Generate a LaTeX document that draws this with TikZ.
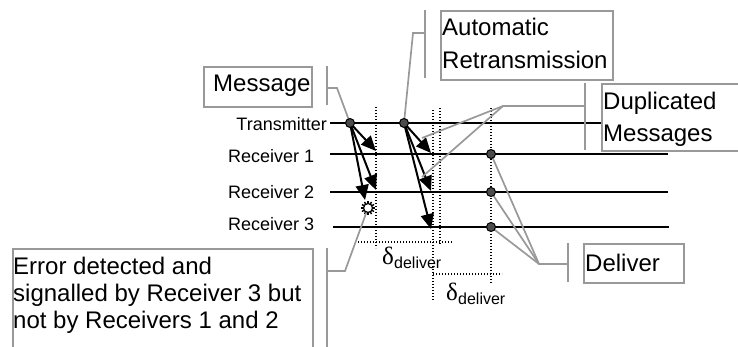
\documentclass[tikz,border=0pt]{standalone}
\usepackage{fontspec}
\setmainfont{Liberation Sans}
\newfontfamily\grk{Liberation Serif}
\usetikzlibrary{arrows.meta}
\begin{document}
\begin{tikzpicture}[x=1pt,y=-1pt,
  wire/.style={line width=2pt},
  msg/.style={line width=2pt,-{Triangle[length=15pt,width=13pt]}},
  dot/.style={circle,draw=black,fill=black!70,line width=1pt,minimum size=9pt,inner sep=0},
  tick/.style={black,line width=1.4pt,dash pattern=on 1.4pt off 1.6pt},
  call/.style={draw=black!40,line width=1.7pt},
  box/.style={draw=black!40,line width=1.7pt,fill=white,anchor=north west,inner sep=0},
  boxtxt/.style={anchor=base west,inner sep=0,font=\fontsize{24}{24}\selectfont},
  labw/.style={anchor=base west,inner sep=0,font=\fontsize{18}{18}\selectfont},
  labe/.style={anchor=base east,inner sep=0,font=\fontsize{18}{18}\selectfont},
  dlt/.style={anchor=base west,inner sep=0,font=\grk\fontsize{25}{25}\selectfont},
  sub/.style={anchor=base west,inner sep=0,font=\fontsize{16}{16}\selectfont}]
\useasboundingbox (0,0) rectangle (738,347);

% row labels
\node[labe] (lt) at (327,131) {Transmitter};
\node[labw] (l1) at (228,163) {Receiver 1};
\node[labw] (l2) at (228,199) {Receiver 2};
\node[labw] (l3) at (228,231) {Receiver 3};

% timelines
\coordinate (tA) at (330,123); \coordinate (tB) at (610,123);
\coordinate (r1A) at (330,154); \coordinate (r1B) at (668,154);
\coordinate (r2A) at (330,192); \coordinate (r2B) at (668,192);
\coordinate (r3A) at (333,227); \coordinate (r3B) at (669,227);
\draw[wire] (tA) -- (tB);
\draw[wire] (r1A) -- (r1B);
\draw[wire] (r2A) -- (r2B);
\draw[wire] (r3A) -- (r3B);

% dotted timing lines
\coordinate (v1a) at (376,107); \coordinate (v1b) at (376,248);
\coordinate (v2a) at (433,110); \coordinate (v2b) at (433,300);
\coordinate (v3a) at (440,108); \coordinate (v3b) at (440,245);
\coordinate (v4a) at (491,108); \coordinate (v4b) at (491,283);
\coordinate (h1a) at (358,242); \coordinate (h1b) at (453,242);
\coordinate (h2a) at (433,274); \coordinate (h2b) at (502,274);
\draw[tick] (v1a) -- (v1b);
\draw[tick] (v2a) -- (v2b);
\draw[tick] (v3a) -- (v3b);
\draw[tick] (v4a) -- (v4b);
\draw[tick] (h1a) -- (h1b);
\draw[tick] (h2a) -- (h2b);

% delta labels
\node[dlt] (dl1) at (382,264) {δ};
\node[sub] (ds1) at (394,268) {deliver};
\node[dlt] (dl2) at (446,300) {δ};
\node[sub] (ds2) at (458,304) {deliver};

% error star
\node[circle,draw=black,fill=white,line width=1.2pt,minimum size=9pt,inner sep=0] (err) at (368,208) {};
\foreach \a in {0,30,...,330}
  \draw[line width=1.4pt] ([shift={(\a:4.5)}]err.center) -- ([shift={(\a:7)}]err.center);

% message arrows
\coordinate (a11) at (376,151); \coordinate (a12) at (376,190); \coordinate (a13) at (365,200);
\coordinate (a21) at (431,153); \coordinate (a22) at (431,191); \coordinate (a23) at (431,229);
\coordinate (t1) at (350,123); \coordinate (t2) at (404,123);
\draw[msg] (t1) -- (a11);
\draw[msg] (t1) -- (a12);
\draw[msg] (t1) -- (a13);
\draw[msg] (t2) -- (a21);
\draw[msg] (t2) -- (a22);
\draw[msg] (t2) -- (a23);

% callout boxes
\node[box,minimum width=108pt,minimum height=40pt] (msgbox) at (203,66) {};
\node[boxtxt] (msgt) at (213,92) {Message};
\node[box,minimum width=172pt,minimum height=69pt] (autobox) at (440,10) {};
\node[boxtxt] (autot1) at (442,36) {Automatic};
\node[boxtxt] (autot2) at (442,69) {Retransmission};
\node[box,minimum width=140pt,minimum height=67pt] (dupbox) at (601,83) {};
\node[boxtxt] (dupt1) at (603,110) {Duplicated};
\node[boxtxt] (dupt2) at (603,142) {Messages};
\node[box,minimum width=100pt,minimum height=39pt] (delbox) at (583,243) {};
\node[boxtxt] (delt) at (585,271) {Deliver};
\node[box,minimum width=300pt,minimum height=110pt] (errbox) at (12,248) {};
\node[boxtxt] (errt1) at (13,274) {Error detected and};
\node[boxtxt] (errt2) at (13,301) {signalled by Receiver 3 but};
\node[boxtxt] (errt3) at (13,328) {not by Receivers 1 and 2};

% callout brackets
\coordinate (mb1) at (327,66); \coordinate (mb2) at (327,105);
\coordinate (mb3) at (327,88); \coordinate (mb4) at (337,88);
\draw[call] (mb1) -- (mb2);
\draw[call] (mb3) -- (mb4) -- (t1);
\coordinate (ab1) at (425,10); \coordinate (ab2) at (425,78);
\coordinate (ab3) at (425,33); \coordinate (ab4) at (413,33);
\draw[call] (ab1) -- (ab2);
\draw[call] (ab3) -- (ab4) -- (t2);
\coordinate (db1) at (585,83); \coordinate (db2) at (585,150);
\coordinate (db3) at (585,106); \coordinate (db4) at (503,106);
\coordinate (dx1) at (422,138); \coordinate (dx2) at (422,177);
\draw[call] (db1) -- (db2);
\draw[call] (db3) -- (db4) -- (dx1);
\draw[call] (db4) -- (dx2);
\coordinate (eb1) at (327,248); \coordinate (eb2) at (327,350);
\coordinate (eb3) at (327,271); \coordinate (eb4) at (345,271);
\draw[call] (eb1) -- (eb2);
\draw[call] (eb3) -- (eb4) -- (err);
\coordinate (lb1) at (568,243); \coordinate (lb2) at (568,282);
\coordinate (lb3) at (568,264); \coordinate (lb4) at (539,264);
\coordinate (d1) at (491,154); \coordinate (d2) at (491,192); \coordinate (d3) at (491,227);
\draw[call] (lb1) -- (lb2);
\draw[call] (lb3) -- (lb4) -- (d1);
\draw[call] (lb4) -- (d2);
\draw[call] (lb4) -- (d3);

% dots
\node[dot] (t1d) at (t1) {};
\node[dot] (t2d) at (t2) {};
\node[dot] (d1d) at (d1) {};
\node[dot] (d2d) at (d2) {};
\node[dot] (d3d) at (d3) {};
\end{tikzpicture}
\end{document}
